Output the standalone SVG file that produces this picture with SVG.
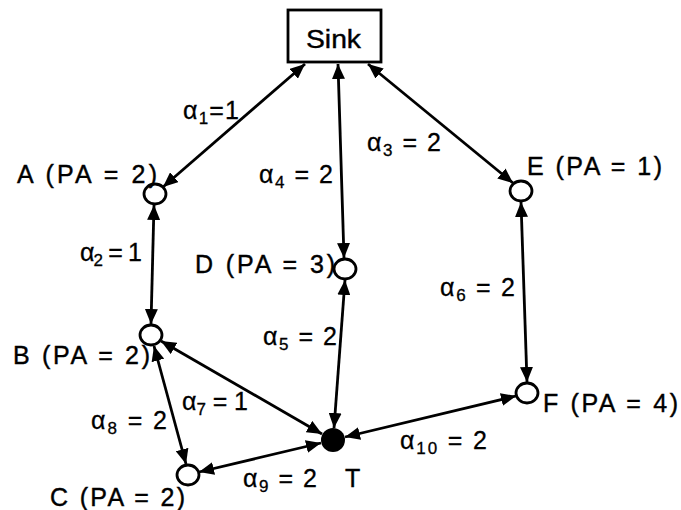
<svg xmlns="http://www.w3.org/2000/svg" width="681" height="510" viewBox="0 0 681 510">
<style>
.edge{stroke:#000;stroke-width:2.8;fill:none;marker-start:url(#ah);marker-end:url(#ah)}
.node{fill:#fff;stroke:#000;stroke-width:2.8}
.lbl{font-family:"Liberation Sans",Arial,sans-serif;font-size:25px;fill:#000;stroke:#000;stroke-width:0.4}
.al{font-family:"Liberation Sans",Arial,sans-serif;font-size:25px;fill:#000;stroke:#000;stroke-width:0.3}
.sub{font-size:17px}
</style>
<defs>
<marker id="ah" viewBox="0 0 15 13" refX="15" refY="6.5" markerWidth="15" markerHeight="13" markerUnits="userSpaceOnUse" orient="auto-start-reverse">
<path d="M0,0 L15,6.5 L0,13 z" fill="#000"/>
</marker>
</defs>
<rect width="681" height="510" fill="#fff"/>
<g id="connectors">
<line class="edge" x1="305" y1="64" x2="163" y2="187"/>
<line class="edge" x1="338" y1="64" x2="344" y2="258"/>
<line class="edge" x1="368" y1="64" x2="513" y2="183"/>
<line class="edge" x1="154" y1="205" x2="151" y2="324"/>
<line class="edge" x1="161" y1="341" x2="322" y2="434"/>
<line class="edge" x1="154" y1="346" x2="186" y2="464"/>
<line class="edge" x1="199" y1="472" x2="321" y2="443"/>
<line class="edge" x1="345" y1="280" x2="334" y2="428"/>
<line class="edge" x1="521" y1="202" x2="527" y2="382"/>
<line class="edge" x1="345" y1="437" x2="516" y2="396"/>
</g>
<g id="sink">
<rect x="288" y="10" width="93" height="52" fill="#fff" stroke="#000" stroke-width="2.8"/>
<text class="lbl" x="306" y="48" font-size="28" textLength="55" lengthAdjust="spacingAndGlyphs">Sink</text>
</g>
<g id="A"><ellipse class="node" cx="155" cy="194" rx="11" ry="10"/><text class="lbl" x="17" y="183" textLength="140">A (PA = 2)</text></g>
<g id="B"><ellipse class="node" cx="151" cy="335" rx="11" ry="10"/><text class="lbl" x="13" y="364" textLength="137">B (PA = 2)</text></g>
<g id="C"><ellipse class="node" cx="188" cy="475" rx="11" ry="10"/><text class="lbl" x="50" y="506" textLength="135">C (PA = 2)</text></g>
<g id="D"><ellipse class="node" cx="345" cy="269" rx="11" ry="10"/><text class="lbl" x="195" y="273" textLength="140">D (PA = 3)</text></g>
<g id="E"><ellipse class="node" cx="521" cy="191" rx="11" ry="10"/><text class="lbl" x="527" y="175" textLength="135">E (PA = 1)</text></g>
<g id="F"><ellipse class="node" cx="527" cy="393" rx="11" ry="10"/><text class="lbl" x="543" y="412" textLength="135">F (PA = 4)</text></g>
<g id="T"><circle cx="333" cy="440" r="12" fill="#000"/><text class="lbl" x="345" y="487">T</text></g>
<g id="labels">
<text class="al" x="183" y="119" textLength="56">α<tspan class="sub" dy="5">1</tspan><tspan dy="-5">=1</tspan></text>
<text class="al" x="80" y="261" textLength="62">α<tspan class="sub" dy="5">2</tspan><tspan dy="-5"> = 1</tspan></text>
<text class="al" x="367" y="151" textLength="74">α<tspan class="sub" dy="5">3</tspan><tspan dy="-5"> = 2</tspan></text>
<text class="al" x="259" y="183" textLength="74">α<tspan class="sub" dy="5">4</tspan><tspan dy="-5"> = 2</tspan></text>
<text class="al" x="263" y="345" textLength="74">α<tspan class="sub" dy="5">5</tspan><tspan dy="-5"> = 2</tspan></text>
<text class="al" x="440" y="296" textLength="75">α<tspan class="sub" dy="5">6</tspan><tspan dy="-5"> = 2</tspan></text>
<text class="al" x="182" y="410" textLength="66">α<tspan class="sub" dy="5">7</tspan><tspan dy="-5"> = 1</tspan></text>
<text class="al" x="91" y="429" textLength="76">α<tspan class="sub" dy="5">8</tspan><tspan dy="-5"> = 2</tspan></text>
<text class="al" x="243" y="487" textLength="74">α<tspan class="sub" dy="5">9</tspan><tspan dy="-5"> = 2</tspan></text>
<text class="al" x="400" y="449" textLength="87">α<tspan class="sub" dy="5">10</tspan><tspan dy="-5"> = 2</tspan></text>
</g>
</svg>
